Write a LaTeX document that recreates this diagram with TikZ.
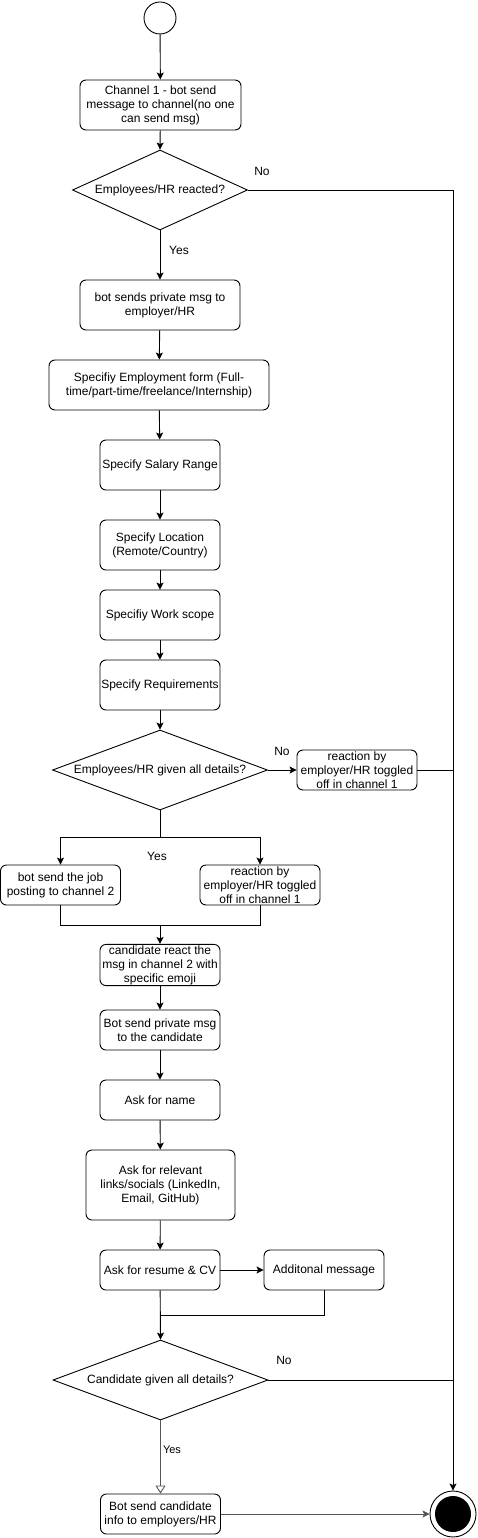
\documentclass[tikz,border=0pt]{standalone}
\usepackage{fontspec}
\setmainfont{Liberation Sans}
\usetikzlibrary{arrows.meta,shapes.geometric}
\definecolor{lgray}{HTML}{555555}
\begin{document}
\begin{tikzpicture}[x=1pt,y=-1pt,
  every node/.style={font=\fontsize{12}{14}\selectfont},
  box/.style={draw, rounded corners=6pt, align=center, inner sep=1pt, line width=0.9pt},
  dia/.style={draw, diamond, inner sep=0pt, minimum height=80pt, line width=0.9pt},
  arr/.style={line width=0.9pt, -{Stealth[length=7pt,width=7pt,inset=1.5pt]}},
  ln/.style={line width=0.9pt},
  lbl/.style={inner sep=1pt}]
\useasboundingbox (0,0) rectangle (477,1538);

\node[circle, draw, line width=0.9pt, minimum size=32pt, inner sep=0pt] (start) at (160,18) {};
\node[box, minimum width=161pt, minimum height=50pt] (b1) at (160.5,105) {Channel 1 - bot send\\message to channel(no one\\can send msg)};
\node[dia, minimum width=175pt] (d1) at (160,190) {};
\node at (d1) {Employees/HR reacted?};
\node[box, minimum width=160pt, minimum height=50pt] (b2) at (160,305) {bot sends private msg to\\employer/HR};
\node[box, minimum width=220pt, minimum height=50pt] (b3) at (159,385) {Specifiy Employment form (Full-\\time/part-time/freelance/Internship)};
\node[box, minimum width=120pt, minimum height=50pt] (b4) at (160,465) {Specify Salary Range};
\node[box, minimum width=120pt, minimum height=50pt] (b5) at (160,545) {Specify Location\\(Remote/Country)};
\node[box, minimum width=120pt, minimum height=50pt] (b6) at (160,615) {Specifiy Work scope};
\node[box, minimum width=120pt, minimum height=50pt] (b7) at (160,685) {Specify Requirements};
\node[dia, minimum width=215pt] (d2) at (160,770) {};
\node at (d2) {Employees/HR given all details?};
\node[box, minimum width=120pt, minimum height=40pt] (b8) at (357,770) {reaction by\\employer/HR toggled\\off in channel 1};
\node[box, minimum width=120pt, minimum height=40pt] (b9) at (60.5,885) {bot send the job\\posting to channel 2};
\node[box, minimum width=120pt, minimum height=40pt] (b10) at (260,885) {reaction by\\employer/HR toggled\\off in channel 1};
\node[box, minimum width=120pt, minimum height=40pt] (b11) at (160,965) {candidate react the\\msg in channel 2 with\\specific emoji};
\node[box, minimum width=120pt, minimum height=40pt] (b12) at (160,1030) {Bot send private msg\\to the candidate};
\node[box, minimum width=120pt, minimum height=40pt] (b13) at (160,1100) {Ask for name};
\node[box, minimum width=149pt, minimum height=70pt] (b14) at (160.5,1185) {Ask for relevant\\links/socials (LinkedIn,\\Email, GitHub)};
\node[box, minimum width=120pt, minimum height=40pt] (b15) at (160,1270) {Ask for resume \& CV};
\node[box, minimum width=120pt, minimum height=40pt] (b16) at (324,1270) {Additonal message};
\node[dia, minimum width=215pt] (d3) at (160.5,1380) {};
\node at (d3) {Candidate given all details?};
\node[box, minimum width=120pt, minimum height=40pt] (b17) at (160.5,1514) {Bot send candidate\\info to employers/HR};
\node[circle, draw, line width=0.9pt, minimum size=46pt, inner sep=0pt] (end) at (453,1514) {};
\fill (end.center) circle (18pt);

\coordinate (sp) at (160,837);
\coordinate (m1) at (160,925);
\coordinate (m2) at (160.5,1315);

\draw[arr] (start) -- (b1);
\draw[arr] (b1) -- (d1.north);
\draw[arr] (d1.east) -- (d1.east -| end) -- (end.north);
\draw[arr] (d1.south) -- (b2);
\draw[arr] (b2) -- (b3);
\draw[arr] (b3) -- (b4);
\draw[arr] (b4) -- (b5);
\draw[arr] (b5) -- (b6);
\draw[arr] (b6) -- (b7);
\draw[arr] (b7) -- (d2.north);
\draw[arr] (d2.east) -- (b8);
\draw[ln] (b8.east) -- (b8.east -| end);
\draw[ln] (d2.south) -- (sp);
\draw[arr] (sp) -| (b9.north);
\draw[arr] (sp) -| (b10.north);
\draw[ln] (b9.south) |- (m1) -| (b10.south);
\draw[arr] (m1) -- (b11);
\draw[arr] (b11) -- (b12);
\draw[arr] (b12) -- (b13);
\draw[arr] (b13) -- (b14);
\draw[arr] (b14) -- (b15);
\draw[arr] (b15) -- (b16);
\draw[ln] (b16.south) |- (m2);
\draw[arr] (b15) -- (d3.north);
\draw[ln] (d3.east) -- (d3.east -| end);
\draw[lgray, line width=0.9pt, -{Triangle[open,length=8pt,width=10pt]}] (d3.south) -- (b17);
\draw[lgray, line width=0.9pt, -{Stealth[length=7pt,width=7pt,inset=1.5pt]}] (b17) -- (end);

\node[lbl] (no1) at (262,171) {No};
\node[lbl] (yes1) at (179,250) {Yes};
\node[lbl] (no2) at (282,751) {No};
\node[lbl] (yes2) at (157,856) {Yes};
\node[lbl] (no3) at (284,1360) {No};
\node[lbl, fill=white, font=\fontsize{11}{13}\selectfont] (yes3) at (172,1450) {Yes};
\end{tikzpicture}
\end{document}
